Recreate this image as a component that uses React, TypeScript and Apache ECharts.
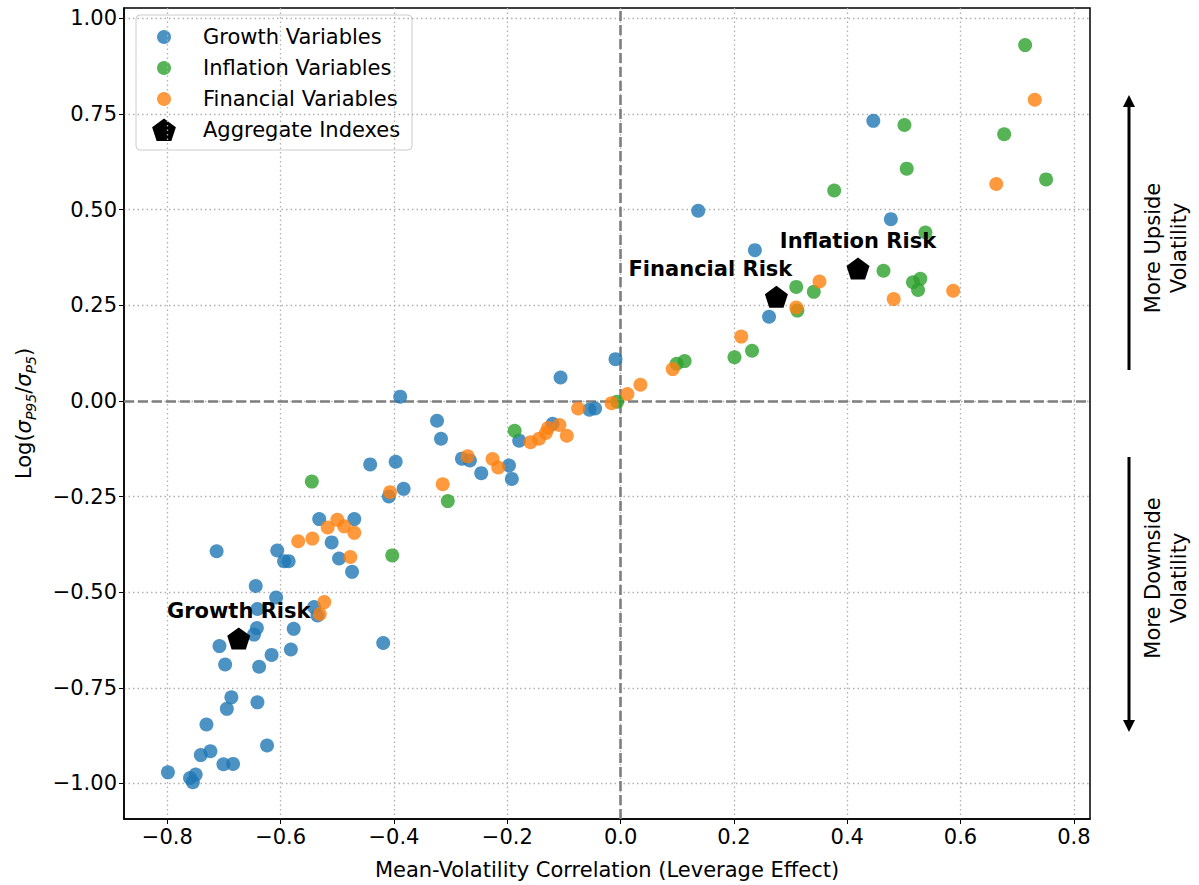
import React, { useEffect, useRef } from "react";
import * as echarts from "echarts";

// Axis ticks
const xTicks = [-0.8, -0.6, -0.4, -0.2, 0, 0.2, 0.4, 0.6, 0.8];
const yTicks = [-1, -0.75, -0.5, -0.25, 0, 0.25, 0.5, 0.75, 1];

// [mean-volatility correlation, log(sigma_P95 / sigma_P5)]
const growthPoints: number[][] = [
  [-0.389, 0.011], [-0.324, -0.052], [-0.317, -0.099], [-0.442, -0.166],
  [-0.397, -0.159], [-0.383, -0.23], [-0.409, -0.25], [-0.28, -0.151],
  [-0.266, -0.156], [-0.246, -0.189], [-0.197, -0.169], [-0.192, -0.204],
  [-0.179, -0.104], [-0.12, -0.06], [-0.106, 0.061], [-0.055, -0.023],
  [-0.045, -0.02], [-0.009, 0.109], [0.137, 0.497], [0.237, 0.394],
  [0.262, 0.22], [0.446, 0.732], [0.477, 0.475], [-0.532, -0.309],
  [-0.47, -0.309], [-0.51, -0.37], [-0.606, -0.391], [-0.713, -0.393],
  [-0.594, -0.419], [-0.586, -0.419], [-0.497, -0.412], [-0.474, -0.447],
  [-0.644, -0.484], [-0.608, -0.514], [-0.641, -0.544], [-0.541, -0.539],
  [-0.535, -0.561], [-0.647, -0.611], [-0.642, -0.594], [-0.577, -0.596],
  [-0.708, -0.641], [-0.698, -0.689], [-0.638, -0.695], [-0.616, -0.664],
  [-0.582, -0.65], [-0.419, -0.633], [-0.687, -0.775], [-0.695, -0.805],
  [-0.641, -0.788], [-0.731, -0.846], [-0.624, -0.901], [-0.741, -0.926],
  [-0.724, -0.916], [-0.701, -0.95], [-0.684, -0.949], [-0.799, -0.971],
  [-0.76, -0.986], [-0.75, -0.977], [-0.755, -0.997],
];

const inflationPoints: number[][] = [
  [-0.545, -0.211], [-0.403, -0.404], [-0.305, -0.262], [-0.187, -0.078],
  [-0.006, -0.002], [0.099, 0.097], [0.113, 0.104], [0.201, 0.114],
  [0.232, 0.131], [0.31, 0.298], [0.341, 0.285], [0.312, 0.236],
  [0.377, 0.55], [0.464, 0.34], [0.501, 0.721], [0.505, 0.607],
  [0.516, 0.31], [0.529, 0.319], [0.525, 0.29], [0.538, 0.44],
  [0.677, 0.697], [0.714, 0.93], [0.751, 0.579],
];

const financialPoints: number[][] = [
  [-0.569, -0.367], [-0.544, -0.36], [-0.5, -0.311], [-0.517, -0.331],
  [-0.488, -0.328], [-0.47, -0.345], [-0.477, -0.408], [-0.523, -0.526],
  [-0.531, -0.557], [-0.407, -0.239], [-0.314, -0.218], [-0.27, -0.145],
  [-0.226, -0.152], [-0.216, -0.174], [-0.159, -0.108], [-0.144, -0.099],
  [-0.132, -0.084], [-0.128, -0.071], [-0.108, -0.063], [-0.095, -0.091],
  [-0.075, -0.02], [-0.016, -0.006], [0.012, 0.018], [0.035, 0.042],
  [0.092, 0.083], [0.213, 0.168], [0.31, 0.244], [0.351, 0.312],
  [0.482, 0.266], [0.587, 0.288], [0.663, 0.567], [0.731, 0.787],
];

const aggregateNames = ["Growth Risk", "Financial Risk", "Inflation Risk"];
const aggregatePoints: number[][] = [
  [-0.674, -0.621],
  [0.275, 0.272],
  [0.419, 0.346],
];

const seriesNames = [
  "Growth Variables",
  "Inflation Variables",
  "Financial Variables",
  "Aggregate Indexes",
];
const seriesColors = ["#1f77b4", "#2ca02c", "#ff7f0e", "#000000"];

const FONT = "DejaVu Sans";
const PENTAGON =
  "path://M12 0 L23.41 8.29 L19.05 21.71 L4.95 21.71 L0.59 8.29 Z";

const fmt = (v: number, digits: number) =>
  (v < 0 ? "\u2212" : "") + Math.abs(v).toFixed(digits);

function pentagonPoints(cx: number, cy: number, r: number): number[][] {
  const pts: number[][] = [];
  for (let i = 0; i < 5; i++) {
    const a = -Math.PI / 2 + (i * 2 * Math.PI) / 5;
    pts.push([cx + r * Math.cos(a), cy + r * Math.sin(a)]);
  }
  return pts;
}

function buildLegend() {
  const left = 136;
  const top = 15;
  const rows = [37, 68, 99, 130];
  const children: any[] = [
    {
      type: "rect",
      shape: { x: left, y: top, width: 276, height: 135, r: 4 },
      style: { fill: "rgba(255,255,255,0.8)", stroke: "#cccccc", lineWidth: 1 },
    },
  ];
  rows.forEach((y, i) => {
    if (i < 3) {
      children.push({
        type: "circle",
        shape: { cx: 164, cy: y, r: 7 },
        style: { fill: seriesColors[i], opacity: 0.8 },
      });
    } else {
      children.push({
        type: "polygon",
        shape: { points: pentagonPoints(164, y + 1, 12.5) },
        style: { fill: "#000" },
      });
    }
    children.push({
      type: "text",
      x: 203,
      y,
      style: {
        text: seriesNames[i],
        fontSize: 21,
        fontFamily: FONT,
        fill: "#000",
        align: "left",
        verticalAlign: "middle",
      },
    });
  });
  return { type: "group", children };
}

function buildSideNotes() {
  const ax = 1129;
  const stroke = { stroke: "#000", lineWidth: 3 };
  const textStyle = (text: string) => ({
    text,
    fontSize: 21,
    fontFamily: FONT,
    fill: "#000",
    align: "center",
    verticalAlign: "middle",
    lineHeight: 26,
  });
  return [
    { type: "line", shape: { x1: ax, y1: 370, x2: ax, y2: 104 }, style: stroke },
    {
      type: "polygon",
      shape: { points: [[ax, 95], [ax - 6, 107], [ax + 6, 107]] },
      style: { fill: "#000" },
    },
    { type: "line", shape: { x1: ax, y1: 457, x2: ax, y2: 723 }, style: stroke },
    {
      type: "polygon",
      shape: { points: [[ax, 732], [ax - 6, 720], [ax + 6, 720]] },
      style: { fill: "#000" },
    },
    {
      type: "text",
      x: 1166,
      y: 248,
      rotation: Math.PI / 2,
      style: textStyle("More Upside\nVolatility"),
    },
    {
      type: "text",
      x: 1166,
      y: 578,
      rotation: Math.PI / 2,
      style: textStyle("More Downside\nVolatility"),
    },
  ];
}

export default function App() {
  const ref = useRef<HTMLDivElement>(null);

  useEffect(() => {
    if (!ref.current) return;
    const chart = echarts.init(ref.current, undefined, { renderer: "svg" });

    const scatter = (i: number, data: number[][]) => ({
      type: "scatter",
      name: seriesNames[i],
      data,
      symbol: "circle",
      symbolSize: 14,
      itemStyle: { color: seriesColors[i], opacity: 0.8 },
      z: 3,
      silent: true,
    });

    const labelOffsets: Record<string, number[]> = {
      "Financial Risk": [-66, 0],
    };

    chart.setOption({
      animation: false,
      textStyle: { fontFamily: FONT },
      grid: {
        left: 124,
        right: 109,
        top: 8,
        bottom: 66,
        show: true,
        borderColor: "#000",
        borderWidth: 1.5,
        backgroundColor: "transparent",
      },
      xAxis: {
        type: "value",
        min: -0.8765,
        max: 0.8285,
        name: "Mean-Volatility Correlation (Leverage Effect)",
        nameLocation: "middle",
        nameGap: 40,
        nameTextStyle: { fontSize: 21, color: "#000", fontFamily: FONT },
        axisLine: { show: true, onZero: false, lineStyle: { color: "#000", width: 1.5 } },
        axisTick: {
          show: true,
          inside: false,
          length: 5,
          customValues: xTicks,
          lineStyle: { color: "#000", width: 1 },
        },
        axisLabel: {
          customValues: xTicks,
          formatter: (v: number) => fmt(v, 1),
          fontSize: 21,
          color: "#000",
          margin: 7,
          fontFamily: FONT,
        },
        splitLine: {
          show: true,
          lineStyle: { color: "#b0b0b0", type: [1.5, 3], width: 1.3 },
        },
      },
      yAxis: {
        type: "value",
        min: -1.093,
        max: 1.027,
        name:
          "{t|Log(}{s|σ}{sub|P95}{t|/}{s|σ}{sub|P5}{t|)}",
        nameLocation: "middle",
        nameGap: 86,
        nameRotate: 90,
        nameTextStyle: {
          color: "#000",
          fontFamily: FONT,
          rich: {
            t: { fontSize: 21, fontFamily: FONT, color: "#000", lineHeight: 28, verticalAlign: "middle" },
            s: { fontSize: 21, fontFamily: FONT, fontStyle: "italic", color: "#000", lineHeight: 28, verticalAlign: "middle" },
            sub: { fontSize: 14, fontFamily: FONT, fontStyle: "italic", color: "#000", lineHeight: 28, verticalAlign: "bottom" },
          },
        },
        axisLine: { show: true, onZero: false, lineStyle: { color: "#000", width: 1.5 } },
        axisTick: {
          show: true,
          inside: false,
          length: 5,
          customValues: yTicks,
          lineStyle: { color: "#000", width: 1 },
        },
        axisLabel: {
          customValues: yTicks,
          formatter: (v: number) => fmt(v, 2),
          fontSize: 21,
          color: "#000",
          margin: 7,
          fontFamily: FONT,
        },
        splitLine: {
          show: true,
          lineStyle: { color: "#b0b0b0", type: [1.5, 3], width: 1.3 },
        },
      },
      series: [
        {
          type: "scatter",
          name: "zero-lines",
          data: [],
          silent: true,
          z: 1,
          markLine: {
            silent: true,
            z: 1,
            symbol: "none",
            label: { show: false },
            lineStyle: { type: [10, 4], color: "#7f7f7f", width: 2.6 },
            data: [{ xAxis: 0 }, { yAxis: 0 }],
          },
        },
        scatter(0, growthPoints),
        scatter(1, inflationPoints),
        scatter(2, financialPoints),
        {
          type: "scatter",
          name: seriesNames[3],
          symbol: PENTAGON,
          symbolSize: [23, 22],
          z: 4,
          silent: true,
          itemStyle: { color: "#000", opacity: 1 },
          data: aggregatePoints.map((p, i) => ({
            name: aggregateNames[i],
            value: p,
            label: labelOffsets[aggregateNames[i]]
              ? { offset: labelOffsets[aggregateNames[i]] }
              : undefined,
          })),
          label: {
            show: true,
            position: "top",
            distance: 6,
            formatter: "{b}",
            fontSize: 21,
            fontWeight: "bold",
            fontFamily: FONT,
            color: "#000",
          },
        },
      ],
      graphic: [buildLegend(), ...buildSideNotes()],
    });

    return () => chart.dispose();
  }, []);

  return (
    <div
      ref={ref}
      style={{ position: "absolute", left: 0, top: 0, width: 1199, height: 885 }}
    />
  );
}
